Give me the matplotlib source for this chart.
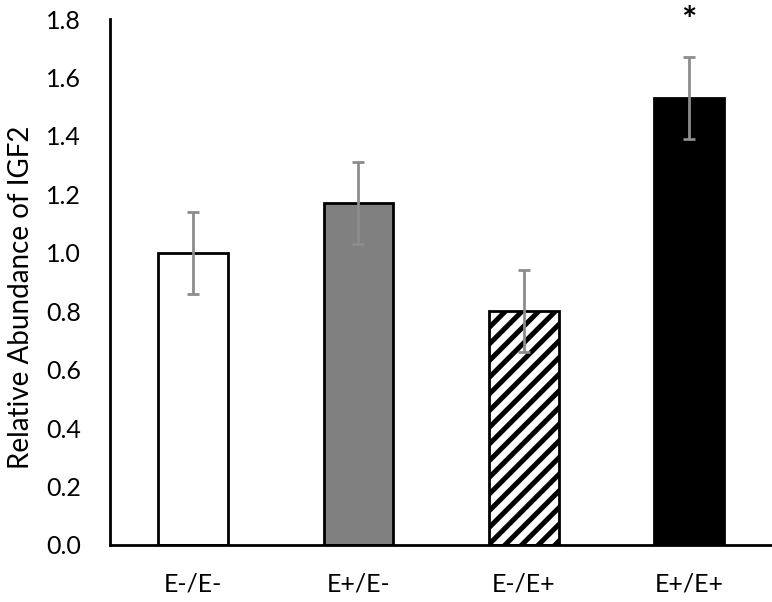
import matplotlib
matplotlib.use("Agg")
import matplotlib.pyplot as plt

groups = ['E-/E-', 'E+/E-', 'E-/E+', 'E+/E+']
abundance = [1.00, 1.17, 0.80, 1.53]
errors = [0.14, 0.14, 0.14, 0.14]
significant = [False, False, False, True]

plt.rcParams['font.family'] = ['Lato', 'DejaVu Sans']
plt.rcParams['hatch.linewidth'] = 3.6

fig = plt.figure(figsize=(7.72, 6.02), dpi=100)
ax = fig.add_axes([0.1425, 0.0947, 0.8575, 0.8737])

# bar styles: open, grey, hatched, solid
faces = ['white', '#808080', 'white', 'black']
hatches = [None, None, '//', None]

x = range(len(groups))
bars = ax.bar(x, abundance, width=0.42, color=faces, edgecolor='black', linewidth=2, zorder=2)
for b, h in zip(bars, hatches):
    if h:
        b.set_hatch(h)

ax.errorbar(x, abundance, yerr=errors, fmt='none', ecolor='#8c8c8c',
            elinewidth=2, capsize=4.5, capthick=2, zorder=3)

for i, sig in enumerate(significant):
    if sig:
        ax.text(i, abundance[i] + errors[i] + 0.12, '*', ha='center', va='center',
                fontsize=26, fontweight='bold', clip_on=False)

ax.set_xlim(-0.5, 3.5)
ax.set_ylim(0, 1.8)
ax.set_yticks([0.2 * k for k in range(10)])
ax.set_yticklabels([f'{0.2 * k:.1f}' for k in range(10)])
ax.set_xticks(list(x))
ax.set_xticklabels(groups)
ax.tick_params(length=0, labelsize=18)
ax.tick_params(axis='y', pad=21)
ax.tick_params(axis='x', pad=20)

for s in ['top', 'right']:
    ax.spines[s].set_visible(False)
ax.spines['left'].set_linewidth(2)
ax.spines['bottom'].set_linewidth(2)

ax.set_ylabel('Relative Abundance of IGF2', fontsize=20, labelpad=8)
ax.yaxis.set_label_coords(-0.115, 0.47)

fig.savefig('out.png', dpi=100)
